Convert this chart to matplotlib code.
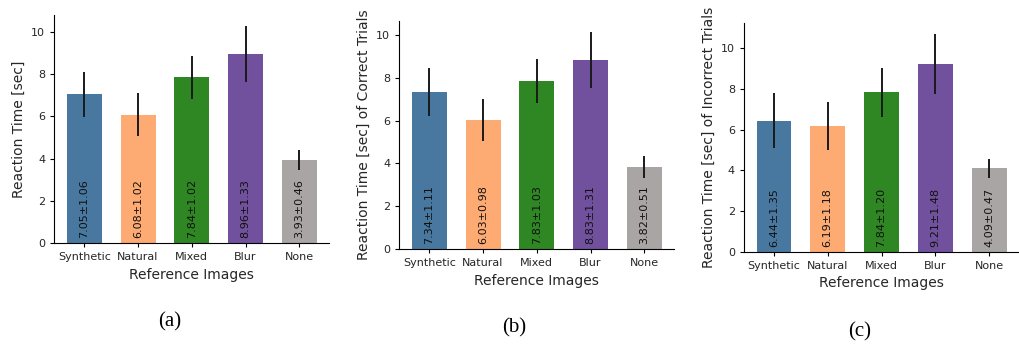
import matplotlib
matplotlib.use("Agg")
import matplotlib.pyplot as plt
import numpy as np

# categories and colours
categories = ["Synthetic", "Natural", "Mixed", "Blur", "None"]
bar_colors = ["#48789f", "#fdaa73", "#2e8722", "#71519d", "#aaa5a5"]

# mean / std for each panel
means_all = [7.05, 6.08, 7.84, 8.96, 3.93]
stds_all = [1.06, 1.02, 1.02, 1.33, 0.46]
means_correct = [7.34, 6.03, 7.83, 8.83, 3.82]
stds_correct = [1.11, 0.98, 1.03, 1.31, 0.51]
means_incorrect = [6.44, 6.19, 7.84, 9.21, 4.09]
stds_incorrect = [1.35, 1.18, 1.20, 1.48, 0.47]

ylabels = ["Reaction Time [sec]",
           "Reaction Time [sec] of Correct Trials",
           "Reaction Time [sec] of Incorrect Trials"]
captions = ["(a)", "(b)", "(c)"]

W, H = 1019, 346
fig = plt.figure(figsize=(W / 100, H / 100), dpi=100)
txt = "#262626"

# panel boxes in pixels: left, zero-line y (from top)
boxes = [(54.3, 243.3), (399.3, 249.3), (744.0, 251.7)]
ax_w, ax_h = 275.0, 228.5
caption_pos = [(170, 322), (514, 328), (860, 332)]

panels = [(means_all, stds_all), (means_correct, stds_correct),
          (means_incorrect, stds_incorrect)]

for i, (means, stds) in enumerate(panels):
    left, zero_y = boxes[i]
    ax = fig.add_axes([left / W, (H - zero_y) / H, ax_w / W, ax_h / H])
    x = np.arange(len(categories))
    ax.bar(x, means, width=0.65, color=bar_colors, yerr=stds,
           error_kw=dict(ecolor="#1a1a1a", elinewidth=1.4, capsize=0))
    for xi, m, s in zip(x, means, stds):
        ax.text(xi, 0.25, f"{m:.2f}\u00b1{s:.2f}", rotation=90,
                ha="center", va="bottom", fontsize=8, color="#111111")
    ax.set_xticks(x)
    ax.set_xticklabels(categories, fontsize=8)
    ax.tick_params(axis="y", labelsize=8)
    ax.tick_params(length=3, width=0.8, labelcolor=txt)
    ax.set_yticks([0, 2, 4, 6, 8, 10])
    ax.set_xlabel("Reference Images", fontsize=10, labelpad=4, color=txt)
    ax.set_ylabel(ylabels[i], fontsize=10, color=txt)
    ax.spines["top"].set_visible(False)
    ax.spines["right"].set_visible(False)
    cx, cy = caption_pos[i]
    fig.text(cx / W, 1 - cy / H, captions[i], ha="center", va="center",
             fontsize=15, family="Liberation Serif")

fig.savefig("out.png", dpi=100)
